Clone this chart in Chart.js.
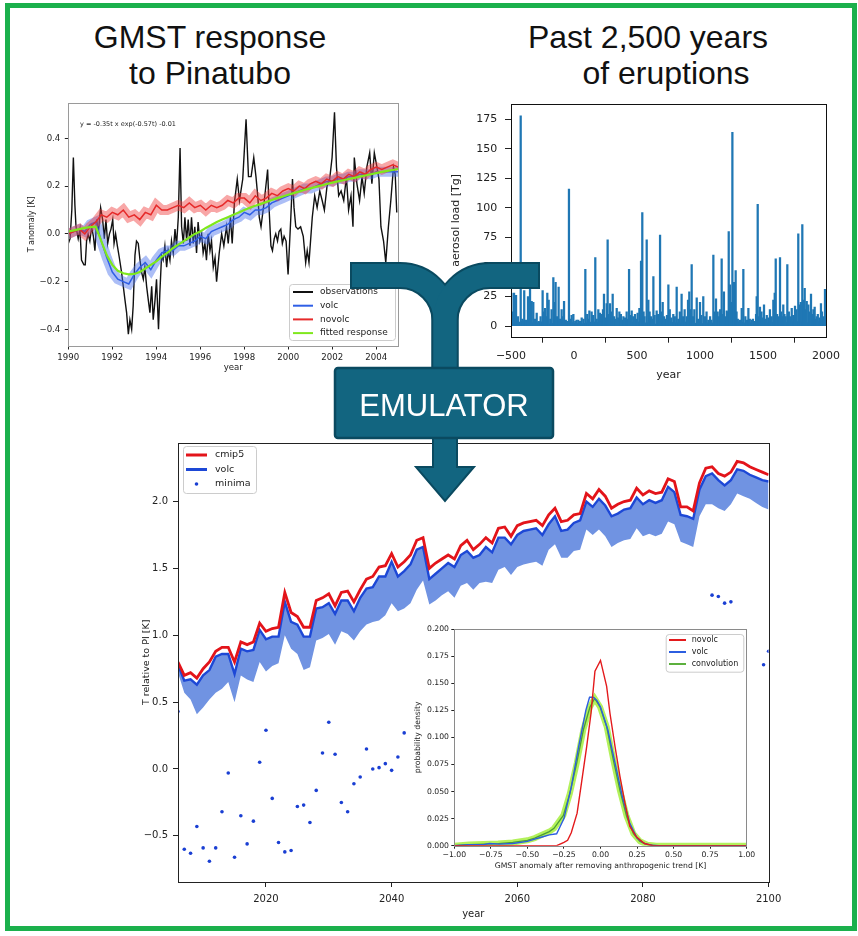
<!DOCTYPE html>
<html>
<head>
<meta charset="utf-8">
<title>Volcanic emulator</title>
<script src="https://cdn.jsdelivr.net/npm/chart.js@4.4.0/dist/chart.umd.min.js"></script>
<style>
  html, body { margin: 0; padding: 0; background: #fff; }
  body { position: relative; width: 858px; height: 936px; overflow: hidden; font-family: "Liberation Sans", Arial, sans-serif; }
  #border { position: absolute; left: 5px; top: 3px; width: 842px; height: 918px; border: 5px solid #1bb04c; }
  .title { position: absolute; width: 260px; font-size: 32px; line-height: 37px; color: #111; white-space: nowrap; text-align: center; }
  canvas { position: absolute; }
  #inset { background: #fff; }
  #shape { position: absolute; left: 0; top: 0; }
</style>
</head>
<body>
<div id="border"></div>
<div class="title" style="left:80px;top:19px">GMST response</div>
<div class="title" style="left:80px;top:55px">to Pinatubo</div>
<div class="title" style="left:518px;top:19px">Past 2,500 years</div>
<div class="title" style="left:536px;top:55px">of eruptions</div>

<canvas id="pinatubo" width="383" height="282" style="left:23px;top:95px;width:383px;height:282px"></canvas>
<canvas id="eruptions" width="397" height="290" style="left:445px;top:96px;width:397px;height:290px"></canvas>
<canvas id="scenario" width="648" height="489" style="left:137px;top:435px;width:648px;height:489px"></canvas>
<canvas id="inset" width="347" height="252" style="left:410px;top:621px;width:347px;height:252px"></canvas>

<svg id="shape" width="858" height="936" viewBox="0 0 858 936">
  <g fill="none" stroke="#0a4a60" stroke-width="27">
    <path d="M350 275.5 H400 A45 45 0 0 1 445 320.5 V372"/>
    <path d="M540 275.5 H490 A45 45 0 0 0 445 320.5 V372"/>
  </g>
  <g fill="none" stroke="#126580" stroke-width="23">
    <path d="M352 275.5 H400 A45 45 0 0 1 445 320.5 V372"/>
    <path d="M538 275.5 H490 A45 45 0 0 0 445 320.5 V372"/>
  </g>
  <path d="M433 436 V467 H416 L445 501 L474 467 H457 V436 Z" fill="#126580" stroke="#0a4a60" stroke-width="2"/>
  <rect x="335" y="368" width="218" height="70" rx="3" fill="#126580" stroke="#0a4a60" stroke-width="2.5"/>
  <text x="444" y="416" text-anchor="middle" font-family="Liberation Sans, Arial, sans-serif" font-size="31" fill="#fff">EMULATOR</text>
</svg>

<script>
// --- GMST response to Pinatubo ---
// observed anomaly, [year, K]
const obsPoints = [
  [1990.00,-0.04],[1990.08,-0.02],[1990.16,0.10],[1990.23,0.32],[1990.30,0.12],[1990.35,0.03],[1990.45,-0.02],[1990.53,0.02],
  [1990.60,-0.11],[1990.71,-0.13],[1990.77,-0.13],[1990.83,-0.03],[1990.90,0.00],[1990.98,-0.03],[1991.06,0.03],[1991.14,-0.01],
  [1991.21,-0.07],[1991.29,0.06],[1991.36,0.00],[1991.47,0.11],[1991.56,0.06],[1991.64,-0.02],[1991.71,0.06],[1991.79,-0.04],
  [1991.87,0.00],[1991.94,0.02],[1992.02,0.06],[1992.08,-0.04],[1992.15,0.00],[1992.23,-0.05],[1992.32,-0.10],[1992.42,-0.16],
  [1992.50,-0.22],[1992.58,-0.28],[1992.65,-0.33],[1992.73,-0.42],[1992.80,-0.36],[1992.88,-0.40],[1992.95,-0.30],[1993.03,-0.09],
  [1993.10,-0.03],[1993.18,-0.04],[1993.26,-0.11],[1993.33,-0.16],[1993.41,-0.19],[1993.48,-0.14],[1993.56,-0.22],[1993.64,-0.28],
  [1993.71,-0.33],[1993.79,-0.22],[1993.86,-0.36],[1993.94,-0.28],[1994.01,-0.19],[1994.10,-0.40],[1994.16,-0.25],[1994.24,-0.09],
  [1994.31,-0.11],[1994.39,-0.05],[1994.47,-0.14],[1994.54,-0.07],[1994.62,-0.11],[1994.69,-0.03],[1994.77,-0.08],[1994.85,0.02],
  [1994.92,-0.05],[1995.00,0.07],[1995.08,0.36],[1995.15,0.03],[1995.23,-0.04],[1995.30,0.07],[1995.38,-0.03],[1995.45,0.06],
  [1995.53,-0.05],[1995.60,0.07],[1995.68,-0.04],[1995.75,0.03],[1995.83,-0.08],[1995.90,0.05],[1995.98,-0.03],[1996.06,0.00],
  [1996.13,-0.08],[1996.21,-0.04],[1996.28,-0.11],[1996.36,0.00],[1996.44,-0.07],[1996.51,-0.03],[1996.59,-0.14],[1996.67,-0.10],
  [1996.74,-0.20],[1996.86,-0.08],[1996.97,0.00],[1997.07,-0.05],[1997.19,0.03],[1997.27,-0.04],[1997.37,0.07],[1997.45,-0.04],
  [1997.55,0.13],[1997.68,0.23],[1997.78,0.14],[1997.93,0.23],[1998.08,0.48],[1998.19,0.24],[1998.31,0.24],[1998.43,0.32],
  [1998.53,0.24],[1998.61,0.16],[1998.68,0.07],[1998.76,0.03],[1998.91,0.14],[1999.06,0.27],[1999.13,0.10],[1999.21,-0.05],
  [1999.28,-0.07],[1999.36,-0.02],[1999.43,0.00],[1999.51,-0.03],[1999.58,0.01],[1999.66,0.02],[1999.73,-0.04],[1999.81,-0.01],
  [1999.90,-0.03],[1999.99,-0.17],[2000.11,0.06],[2000.19,0.23],[2000.26,0.11],[2000.34,0.03],[2000.44,0.02],[2000.56,0.03],
  [2000.68,-0.01],[2000.79,-0.12],[2000.86,-0.07],[2000.94,-0.12],[2001.09,0.07],[2001.20,0.16],[2001.31,0.11],[2001.43,0.18],
  [2001.54,0.14],[2001.64,0.10],[2001.76,0.20],[2001.88,0.23],[2001.99,0.32],[2002.10,0.51],[2002.19,0.28],[2002.29,0.16],
  [2002.40,0.18],[2002.52,0.14],[2002.64,0.24],[2002.74,0.10],[2002.85,0.16],[2002.94,0.03],[2003.00,0.32],[2003.12,0.21],
  [2003.24,0.14],[2003.35,0.24],[2003.45,0.17],[2003.57,0.28],[2003.70,0.34],[2003.80,0.21],[2003.91,0.34],[2004.03,0.28],
  [2004.12,0.23],[2004.21,0.03],[2004.33,-0.03],[2004.43,-0.12],[2004.55,0.03],[2004.66,0.14],[2004.78,0.28],[2004.86,0.25],
  [2004.93,0.09]
];
// model runs, one value per quarter, 1990.00 .. 2005.00
const novolcT = [0.00,0.01,0.02,0.00, 0.03,0.05,0.08,0.07, 0.09,0.08,0.10,0.07, 0.08,0.06,0.09,0.08,
  0.12,0.10,0.10,0.11, 0.12,0.11,0.13,0.11, 0.12,0.10,0.12,0.11, 0.12,0.14,0.13,0.15,
  0.15,0.13,0.16,0.14, 0.15,0.17,0.16,0.18, 0.19,0.18,0.20,0.19, 0.21,0.22,0.21,0.23,
  0.22,0.24,0.23,0.25, 0.24,0.26,0.25,0.27, 0.28,0.27,0.28,0.29, 0.28];
const volcT = [0.00,0.01,0.02,0.01, 0.04,0.05,-0.03,-0.10, -0.16,-0.19,-0.20,-0.21, -0.17,-0.14,-0.12,-0.15,
  -0.11,-0.08,-0.07,-0.07, -0.05,-0.05,-0.04,-0.03, -0.01,-0.02,0.01,0.02, 0.03,0.04,0.06,0.07,
  0.09,0.08,0.10,0.10, 0.11,0.13,0.14,0.15, 0.16,0.17,0.18,0.19, 0.19,0.20,0.21,0.22,
  0.22,0.23,0.23,0.24, 0.24,0.25,0.25,0.25, 0.26,0.26,0.26,0.26, 0.26];
const fittedT = [0.010,0.015,0.020,0.025, 0.028,0.030,-0.030,-0.090, -0.130,-0.155,-0.165,-0.170, -0.168,-0.160,-0.145,-0.130,
  -0.115,-0.095,-0.080,-0.060, -0.045,-0.030,-0.015,0.000, 0.010,0.025,0.037,0.050, 0.060,0.070,0.080,0.090,
  0.100,0.110,0.118,0.126, 0.134,0.142,0.150,0.157, 0.164,0.171,0.178,0.185, 0.191,0.197,0.203,0.209,
  0.215,0.220,0.225,0.230, 0.235,0.240,0.245,0.250, 0.255,0.260,0.264,0.268, 0.272];
const pinYearTicks = [1990,1992,1994,1996,1998,2000,2002,2004];
const pinTempTicks = [-0.4,-0.2,0,0.2,0.4];

// --- past 2,500 years of eruptions: [year, aerosol load Tg] ---
const eruptions = [
  [-497,28],[-490,12],[-476,28],[-460,26],[-445,8],[-423,178],[-410,6],[-395,30],[-380,5],[-365,25],[-349,35],[-336,21],
  [-323,20],[-310,6],[-296,11],[-280,4],[-265,8],[-249,30],[-240,12],[-230,15],[-220,8],[-212,28],[-201,22],[-188,6],
  [-178,14],[-164,41],[-155,20],[-146,37],[-135,8],[-122,33],[-112,6],[-98,14],[-88,8],[-79,21],[-65,5],[-55,4],
  [-40,116],[-30,6],[-19,9],[-5,10],[10,4],[20,5],[34,5],[48,4],[61,7],[75,6],[90,48],[105,10],[112,6],[122,13],
  [140,12],[152,9],[169,58],[180,6],[193,14],[206,11],[222,10],[230,14],[238,27],[248,7],[259,19],[267,73],[275,10],
  [286,19],[296,12],[307,27],[318,8],[328,6],[339,15],[350,7],[360,12],[372,10],[382,5],[392,8],[404,7],[418,12],
  [428,6],[437,48],[447,9],[458,13],[470,8],[484,10],[495,6],[505,11],[519,15],[525,9],[532,55],[542,96],[552,12],
  [560,8],[577,73],[590,22],[600,12],[612,8],[620,6],[630,42],[640,9],[656,13],[668,10],[683,77],[692,12],[704,20],
  [715,8],[728,6],[738,9],[749,35],[760,14],[772,7],[788,10],[800,8],[815,33],[828,6],[840,12],[854,27],[866,8],
  [878,14],[894,8],[905,22],[915,29],[929,14],[934,52],[945,8],[955,14],[974,24],[985,6],[1000,20],[1010,9],[1026,25],
  [1040,8],[1052,12],[1066,5],[1080,8],[1090,5],[1106,60],[1115,12],[1127,23],[1140,12],[1150,8],[1160,14],[1172,57],
  [1182,10],[1190,29],[1200,8],[1212,13],[1220,12],[1228,80],[1238,35],[1248,20],[1257,164],[1263,14],[1270,37],[1283,47],
  [1290,12],[1300,6],[1317,5],[1331,15],[1344,48],[1360,8],[1372,5],[1384,15],[1395,6],[1410,5],[1420,6],[1437,4],
  [1445,10],[1450,25],[1458,103],[1466,8],[1476,16],[1488,12],[1498,7],[1508,18],[1520,6],[1530,9],[1542,7],[1555,14],
  [1569,8],[1582,22],[1593,28],[1601,57],[1612,10],[1622,8],[1635,58],[1645,12],[1652,8],[1661,18],[1670,10],[1680,8],
  [1693,52],[1705,12],[1715,8],[1728,15],[1740,9],[1754,17],[1766,14],[1780,78],[1794,18],[1800,20],[1812,86],[1820,22],
  [1831,32],[1840,14],[1847,21],[1860,18],[1870,12],[1881,27],[1895,10],[1900,14],[1910,16],[1918,6],[1926,8],[1935,10],
  [1948,7],[1960,19],[1968,12],[1979,8],[1985,6],[1992,31]
];
// small background load, one value every 50 years from -500 to 2000
const backgroundLoad = [4,3,5,3,3,4,2,3,3,4, 3,2,3,4,3,3,4,2,3,3, 4,3,3,2,3,4,3,3,4,3,
  2,3,3,4,3,3,4,3,3,4, 3,3,4,4,3,4,4,3,4,4, 3];
const eruptYearTicks = [-500,0,500,1000,1500,2000];
const eruptLoadTicks = [0,25,50,75,100,125,150,175];

// --- emulated scenario, one value per year 2006..2100 ---
const cmip5 = [0.80,0.70,0.72,0.68,0.75,0.80,0.88,0.91,0.91,0.80,
  0.95,0.93,0.95,1.09,1.03,1.05,1.06,1.32,1.17,1.14,
  1.06,1.06,1.26,1.28,1.31,1.22,1.32,1.33,1.25,1.34,
  1.42,1.44,1.51,1.52,1.61,1.51,1.55,1.60,1.71,1.73,
  1.50,1.54,1.57,1.60,1.57,1.67,1.71,1.64,1.68,1.73,
  1.69,1.80,1.81,1.74,1.82,1.84,1.85,1.86,1.82,1.90,
  1.95,1.85,1.86,1.90,1.91,2.06,2.02,2.09,2.04,1.95,
  1.98,2.00,2.01,2.10,2.05,2.08,2.06,2.07,2.17,2.15,
  1.96,1.96,1.93,2.14,2.25,2.26,2.21,2.19,2.22,2.30,
  2.29,2.26,2.24,2.22,2.20];
const volcRun = [0.78,0.66,0.67,0.63,0.70,0.74,0.84,0.86,0.86,0.71,
  0.90,0.88,0.89,1.04,0.97,0.99,0.99,1.25,1.10,1.08,
  0.99,0.99,1.20,1.21,1.24,1.16,1.26,1.26,1.18,1.28,
  1.35,1.36,1.44,1.44,1.55,1.44,1.48,1.53,1.64,1.66,
  1.42,1.46,1.50,1.54,1.51,1.60,1.63,1.58,1.60,1.66,
  1.62,1.73,1.73,1.68,1.75,1.78,1.79,1.80,1.75,1.83,
  1.89,1.78,1.79,1.84,1.86,2.00,1.96,2.02,1.97,1.89,
  1.91,1.94,1.95,2.03,1.98,2.01,1.99,2.01,2.11,2.07,
  1.90,1.89,1.87,2.09,2.19,2.21,2.16,2.12,2.16,2.24,
  2.23,2.20,2.18,2.16,2.15];
const volcLow = [0.72,0.57,0.52,0.41,0.46,0.52,0.57,0.60,0.65,0.50,
  0.70,0.67,0.65,0.80,0.73,0.77,0.79,1.00,0.90,0.86,
  0.74,0.76,0.96,0.98,1.01,0.93,1.03,1.01,0.96,1.03,
  1.08,1.10,1.11,1.15,1.24,1.18,1.20,1.24,1.34,1.41,
  1.23,1.26,1.30,1.33,1.28,1.37,1.39,1.34,1.39,1.40,
  1.39,1.49,1.51,1.45,1.51,1.53,1.54,1.55,1.52,1.64,
  1.68,1.58,1.58,1.63,1.64,1.79,1.75,1.79,1.74,1.66,
  1.69,1.71,1.72,1.80,1.74,1.76,1.74,1.76,1.85,1.83,
  1.70,1.68,1.66,1.89,1.98,1.98,1.95,1.93,1.98,2.06,
  2.04,2.02,1.99,1.96,1.94];
const minima = [
  [2006,0.43],[2007,-0.60],[2008,-0.63],[2009,-0.43],[2010,-0.59],[2011,-0.69],[2012,-0.59],[2013,-0.32],
  [2014,-0.03],[2015,-0.66],[2016,-0.35],[2017,-0.56],[2018,-0.39],[2019,0.05],[2020,0.29],[2021,-0.22],
  [2022,-0.55],[2023,-0.62],[2024,-0.61],[2025,-0.28],[2026,-0.27],[2027,-0.40],[2028,-0.16],[2029,0.12],
  [2030,0.35],[2031,0.11],[2032,-0.25],[2033,-0.32],[2034,-0.11],[2035,-0.06],[2036,0.15],[2037,0.00],
  [2038,0.01],[2039,0.04],[2040,-0.01],[2041,0.09],[2042,0.27],[2091,1.30],[2092,1.29],[2093,1.24],
  [2094,1.25],[2099.2,0.78],[2100,0.88]
];
const scenYearTicks = [2020,2040,2060,2080,2100];
const scenTempTicks = [-0.5,0,0.5,1,1.5,2];

// --- inset: distribution of detrended GMST, [K, density] ---
const novolcPdf = [[-1,0],[-0.5,0],[-0.3,0],[-0.25,0.003],[-0.225,0.005],[-0.2,0.012],[-0.16,0.030],[-0.13,0.058],
  [-0.095,0.091],[-0.065,0.122],[-0.038,0.161],[0,0.171],[0.042,0.147],[0.065,0.122],[0.1,0.091],[0.133,0.064],
  [0.168,0.039],[0.2,0.018],[0.247,0.008],[0.3,0.002],[0.36,0],[1,0]];
const volcPdf = [[-1,0],[-0.9,0.001],[-0.8,0.001],[-0.76,0.002],[-0.69,0.0015],[-0.6,0.002],[-0.5,0.004],[-0.45,0.006],
  [-0.4,0.008],[-0.35,0.010],[-0.3,0.011],[-0.25,0.025],[-0.2,0.054],[-0.15,0.091],[-0.1,0.125],[-0.075,0.137],
  [-0.05,0.137],[-0.025,0.134],[0,0.128],[0.05,0.107],[0.1,0.076],[0.15,0.045],[0.2,0.021],[0.25,0.007],
  [0.3,0.002],[0.35,0.0005],[0.4,0],[1,0]];
const convPdf = [[-1,0],[-0.9,0.001],[-0.8,0.0015],[-0.7,0.002],[-0.6,0.003],[-0.5,0.005],[-0.45,0.007],[-0.4,0.010],
  [-0.35,0.013],[-0.318,0.016],[-0.254,0.028],[-0.21,0.048],[-0.163,0.076],[-0.117,0.107],[-0.072,0.128],[-0.04,0.136],
  [-0.003,0.128],[0.042,0.110],[0.088,0.079],[0.133,0.051],[0.179,0.027],[0.225,0.011],[0.27,0.004],[0.32,0.001],
  [0.38,0],[1,0]];
const pdfXTicks = [-1,-0.75,-0.5,-0.25,0,0.25,0.5,0.75,1];
const pdfYTicks = [0,0.025,0.05,0.075,0.1,0.125,0.15,0.175,0.2];

Chart.defaults.font.family = '"DejaVu Sans", sans-serif';

// matplotlib-style box round the plot area
const framePlugin = {
  id: 'frame',
  afterDraw(chart, args, o) {
    if (!o.color) return;
    const a = chart.chartArea, ctx = chart.ctx;
    ctx.save();
    ctx.strokeStyle = o.color;
    ctx.lineWidth = 1;
    ctx.strokeRect(Math.round(a.left) + 0.5, Math.round(a.top) + 0.5, Math.round(a.right - a.left), Math.round(a.bottom - a.top));
    ctx.restore();
  }
};

// legend in a box at a fixed place inside the axes
const boxLegend = {
  id: 'boxLegend',
  afterDraw(chart, args, o) {
    if (!o.box) return;
    const ctx = chart.ctx;
    const [bx, by, bw, bh] = o.box;
    ctx.save();
    ctx.beginPath();
    ctx.roundRect(bx + 0.5, by + 0.5, bw, bh, 3);
    ctx.fillStyle = 'rgba(255,255,255,0.85)';
    ctx.fill();
    ctx.strokeStyle = '#cccccc';
    ctx.lineWidth = 1;
    ctx.stroke();
    ctx.font = o.size + 'px "DejaVu Sans"';
    ctx.textBaseline = 'middle';
    const items = chart.data.datasets.filter(d => d.legendText).sort((p, q) => p.legendOrder - q.legendOrder);
    items.forEach((d, i) => {
      const y = by + o.first + i * o.gap;
      const c = d.legendColor || d.borderColor;
      if (d.legendDot) {
        ctx.beginPath();
        ctx.arc(bx + o.lineX + o.lineLen / 2, y, 1.8, 0, Math.PI * 2);
        ctx.fillStyle = c;
        ctx.fill();
      } else {
        ctx.beginPath();
        ctx.moveTo(bx + o.lineX, y);
        ctx.lineTo(bx + o.lineX + o.lineLen, y);
        ctx.strokeStyle = c;
        ctx.lineWidth = o.lineWidth;
        ctx.stroke();
      }
      ctx.fillStyle = '#222';
      ctx.fillText(d.legendText, bx + o.textX, y);
    });
    ctx.restore();
  }
};

const notePlugin = {
  id: 'note',
  afterDraw(chart, args, o) {
    if (!o.text) return;
    const ctx = chart.ctx;
    ctx.save();
    ctx.font = o.size + 'px "DejaVu Sans"';
    ctx.fillStyle = '#222';
    ctx.textBaseline = 'middle';
    ctx.fillText(o.text, o.x, o.y);
    ctx.restore();
  }
};

Chart.register(framePlugin, boxLegend, notePlugin);

function fmt(digits) {
  return function(v) {
    if (Math.abs(v) < 1e-9) v = 0;
    return (v < 0 ? '\u2212' : '') + Math.abs(v).toFixed(digits);
  };
}

function axis(o) {
  return {
    type: 'linear',
    min: o.min,
    max: o.max,
    offset: false,
    afterBuildTicks: s => { s.ticks = o.ticks.map(v => ({ value: v })); },
    afterFit: s => {
      if (o.width) s.width = o.width;
      if (o.height) s.height = o.height;
      s.paddingLeft = 0; s.paddingRight = 0; s.paddingTop = 0; s.paddingBottom = 0;
    },
    ticks: { callback: fmt(o.digits), font: { size: o.font }, color: '#222', padding: o.pad, maxRotation: 0, autoSkip: false },
    grid: { drawOnChartArea: false, tickLength: o.tick, color: '#222' },
    border: { display: false },
    title: { display: true, text: o.title, font: { size: o.titleFont || o.font }, color: '#222', padding: o.titlePad }
  };
}

function baseOptions(padTop, padRight) {
  return {
    responsive: false,
    animation: false,
    devicePixelRatio: 1,
    layout: { padding: { top: padTop, right: padRight, left: 0, bottom: 0 } },
    elements: { point: { radius: 0 }, line: { tension: 0 } },
    plugins: { legend: { display: false }, tooltip: { enabled: false } }
  };
}

const xy = pairs => pairs.map(p => ({ x: p[0], y: p[1] }));

// GMST response to Pinatubo
const quarterYears = novolcT.map((v, i) => 1990 + i / 4);
const onQuarters = arr => arr.map((v, i) => ({ x: quarterYears[i], y: v }));
const pinOptions = baseOptions(7.7, 7.7);
pinOptions.scales = {
  x: axis({ min: 1990, max: 2005, ticks: pinYearTicks, digits: 0, font: 8.6, pad: 3, tick: 3.5, height: 31,
            title: 'year', titlePad: { top: 0, bottom: 4 } }),
  y: axis({ min: -0.47, max: 0.55, ticks: pinTempTicks, digits: 1, font: 8.6, pad: 4.5, tick: 3.5, width: 45.3,
            title: 'T anomaly [K]', titleFont: 8, titlePad: { top: 4, bottom: 0 } })
};
pinOptions.plugins.frame = { color: '#9a9a9a' };
pinOptions.plugins.boxLegend = { box: [266, 189, 106, 56], size: 9, first: 8, gap: 13.7, lineX: 4, lineLen: 20, textX: 31, lineWidth: 2 };
pinOptions.plugins.note = { text: 'y = -0.35t x exp(-0.57t) -0.01', x: 57, y: 29, size: 6.5 };
new Chart(document.getElementById('pinatubo'), {
  type: 'line',
  data: {
    datasets: [
      { data: xy(obsPoints), borderColor: '#111111', borderWidth: 1.4, order: 5, legendText: 'observations', legendOrder: 0 },
      { data: onQuarters(volcT), borderColor: 'rgba(70,110,235,0.45)', borderWidth: 10, order: 4 },
      { data: onQuarters(volcT), borderColor: '#2f5fe6', borderWidth: 1.5, order: 3, legendText: 'volc', legendOrder: 1 },
      { data: onQuarters(novolcT), borderColor: 'rgba(240,60,60,0.45)', borderWidth: 10, order: 2 },
      { data: onQuarters(novolcT), borderColor: '#e62a2a', borderWidth: 1.5, order: 1, legendText: 'novolc', legendOrder: 2 },
      { data: onQuarters(fittedT), borderColor: '#7fe81c', borderWidth: 2.2, order: 0, legendText: 'fitted response', legendOrder: 3 }
    ]
  },
  options: pinOptions
});

// past 2,500 years of eruptions
const bgYears = backgroundLoad.map((v, i) => -500 + 50 * i);
const eruptOptions = baseOptions(8, 16);
eruptOptions.scales = {
  x: axis({ min: -500, max: 2000, ticks: eruptYearTicks, digits: 0, font: 11, pad: 7, tick: 6, height: 49.3,
            title: 'year', titlePad: { top: 0, bottom: 4.4 } }),
  y: axis({ min: -9, max: 188, ticks: eruptLoadTicks, digits: 0, font: 11, pad: 7.7, tick: 6, width: 66,
            title: 'aerosol load [Tg]', titlePad: { top: 4.4, bottom: 0 } })
};
eruptOptions.plugins.frame = { color: '#111111' };
new Chart(document.getElementById('eruptions'), {
  type: 'bar',
  data: {
    datasets: [
      { data: xy(eruptions), backgroundColor: '#1f77b4', barThickness: 1.6, order: 0 },
      { type: 'line', data: backgroundLoad.map((v, i) => ({ x: bgYears[i], y: v })), borderWidth: 0,
        backgroundColor: '#1f77b4', fill: 'origin', pointRadius: 0, order: 1 }
    ]
  },
  options: eruptOptions
});

// emulated scenario
const scenYears = cmip5.map((v, i) => 2006 + i);
const onYears = arr => arr.map((v, i) => ({ x: scenYears[i], y: v }));
const scenOptions = baseOptions(7.7, 16.4);
scenOptions.scales = {
  x: axis({ min: 2006, max: 2100, ticks: scenYearTicks, digits: 0, font: 10, pad: 6, tick: 5, height: 42,
            title: 'year', titlePad: { top: 0, bottom: 4 } }),
  y: axis({ min: -0.845, max: 2.44, ticks: scenTempTicks, digits: 1, font: 10, pad: 5, tick: 5, width: 41,
            title: 'T relative to PI [K]', titleFont: 9.5, titlePad: { top: 4.3, bottom: 0 } })
};
scenOptions.plugins.frame = { color: '#222222' };
scenOptions.plugins.boxLegend = { box: [46, 11, 73, 47], size: 9.5, first: 9, gap: 14.5, lineX: 3, lineLen: 21, textX: 32, lineWidth: 3 };
new Chart(document.getElementById('scenario'), {
  type: 'line',
  data: {
    datasets: [
      { data: onYears(cmip5), borderColor: '#e3141a', borderWidth: 2.8, order: 0, legendText: 'cmip5', legendOrder: 0 },
      { data: onYears(volcRun), borderColor: '#1d48d6', borderWidth: 2.4, order: 1, legendText: 'volc', legendOrder: 1 },
      { data: onYears(volcLow), borderWidth: 0, borderColor: 'rgba(0,0,0,0)', backgroundColor: '#7093e2', fill: 1, order: 2 },
      { data: xy(minima), showLine: false, pointRadius: 1.8, pointBorderWidth: 0, pointBackgroundColor: '#1a3fd3',
        borderColor: '#1a3fd3', order: 3, legendText: 'minima', legendOrder: 2, legendDot: true }
    ]
  },
  options: scenOptions
});

// inset distribution
const pdfOptions = baseOptions(8, 10.3);
pdfOptions.scales = {
  x: axis({ min: -1, max: 1, ticks: pdfXTicks, digits: 2, font: 7.7, pad: 1.5, tick: 3, height: 27.3,
            title: 'GMST anomaly after removing anthropogenic trend [K]', titlePad: { top: 0, bottom: 2 } }),
  y: axis({ min: 0, max: 0.2, ticks: pdfYTicks, digits: 3, font: 7.7, pad: 2.3, tick: 3, width: 44.3,
            title: 'probability density', titlePad: { top: 3.4, bottom: 0 } })
};
pdfOptions.plugins.frame = { color: '#8a8a8a' };
pdfOptions.plugins.boxLegend = { box: [255.7, 13, 77.6, 37.7], size: 8, first: 6, gap: 12, lineX: 3.3, lineLen: 17, textX: 26, lineWidth: 2 };
new Chart(document.getElementById('inset'), {
  type: 'line',
  data: {
    datasets: [
      { data: xy(novolcPdf), borderColor: '#e31a1c', borderWidth: 1.4, order: 0, legendText: 'novolc', legendOrder: 0 },
      { data: xy(volcPdf), borderColor: '#2c5ee0', borderWidth: 1.4, order: 1, legendText: 'volc', legendOrder: 1 },
      { data: xy(convPdf), borderColor: '#4b9e35', borderWidth: 1.3, order: 2, legendText: 'convolution', legendOrder: 2, legendColor: '#5cb03e' },
      { data: xy(convPdf), borderColor: 'rgba(160,238,50,0.8)', borderWidth: 6, order: 3 }
    ]
  },
  options: pdfOptions
});
</script>
</body>
</html>
